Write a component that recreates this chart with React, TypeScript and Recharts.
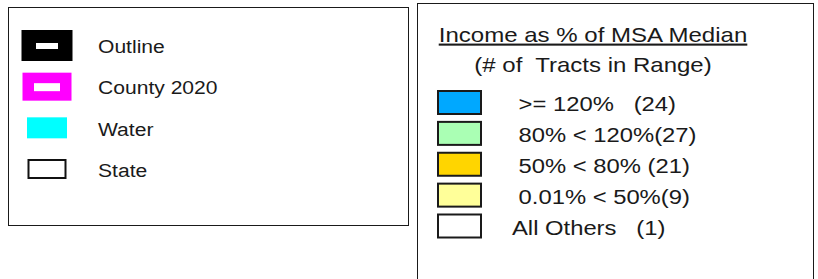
import React from 'react'
import { ScatterChart, Scatter, XAxis, YAxis, Customized } from 'recharts'

// map layers legend
const layerNames = ['Outline', 'County 2020', 'Water', 'State']

// income legend
const incomeTitle = 'Income as % of MSA Median'
const incomeSubtitle = '(# of  Tracts in Range)'
const incomeRanges = [' >= 120%   ', ' 80% < 120%', ' 50% < 80% ', ' 0.01% < 50%', 'All Others   ']
const tractCounts = [24, 27, 21, 9, 1]

const LAYER_STYLES = [
  { fill: '#000000', w: 51, h: 31, inner: { w: 22, h: 6 } },
  { fill: '#FF00FF', w: 49, h: 28, inner: { w: 26, h: 8 } },
  { fill: '#00FFFF', w: 40, h: 21 },
  { fill: '#FFFFFF', w: 37, h: 18, stroke: '#111111' },
]

const INCOME_COLORS = [
  '#00A8FF', // >= 120
  '#AAFFB4', // 80-120
  '#FFD500', // 50-80
  '#FFFF99', // 0-50
  '#FFFFFF', // others
]

const FONT = "'Liberation Sans', Arial, sans-serif"
const INK = '#1a1a1a'

const layerData = layerNames.map((name, i) => ({ x: 0, row: i, name }))
const incomeData = incomeRanges.map((range, i) => ({ x: 0, row: i, label: `${range}(${tractCounts[i]})` }))

const LayerSwatch = (props: any) => {
  const { cx, cy, payload } = props
  const s = LAYER_STYLES[payload.row]
  return (
    <g>
      <rect
        x={cx - s.w / 2}
        y={cy - s.h / 2}
        width={s.w}
        height={s.h}
        fill={s.fill}
        stroke={s.stroke ?? 'none'}
        strokeWidth={s.stroke ? 2 : 0}
      />
      {s.inner && (
        <rect x={cx - s.inner.w / 2} y={cy - s.inner.h / 2 + 0.5} width={s.inner.w} height={s.inner.h} fill="#fff" />
      )}
      <text
        transform={`translate(${cx + 51} ${cy + 7.8}) scale(1.11 1)`}
        fontSize={19}
        fontFamily={FONT}
        fill={INK}
      >
        {payload.name}
      </text>
    </g>
  )
}

const IncomeSwatch = (props: any) => {
  const { cx, cy, payload } = props
  return (
    <g>
      <rect x={cx - 21.5} y={cy - 11.5} width={43} height={23} fill={INCOME_COLORS[payload.row]} stroke={INK} strokeWidth={2} />
      <text
        transform={`translate(${cx + 52.5} ${cy + 8.7}) scale(1.19 1)`}
        fontSize={20}
        fontFamily={FONT}
        fill={INK}
        xmlSpace="preserve"
        style={{ whiteSpace: 'pre' }}
      >
        {payload.label}
      </text>
    </g>
  )
}

const IncomeTitle = () => (
  <g>
    <text
      transform="translate(176 38.7) scale(1.145 1)"
      textAnchor="middle"
      fontSize={21}
      fontFamily={FONT}
      fill={INK}
      textDecoration="underline"
    >
      {incomeTitle}
    </text>
    <text
      transform="translate(176 68.5) scale(1.2 1)"
      textAnchor="middle"
      fontSize={20}
      fontFamily={FONT}
      fill={INK}
      xmlSpace="preserve"
      style={{ whiteSpace: 'pre' }}
    >
      {incomeSubtitle}
    </text>
  </g>
)

export default function App() {
  return (
    <div style={{ position: 'absolute', left: 0, top: 0, width: 818, height: 279, overflow: 'hidden', background: '#fff' }}>
      <div
        style={{
          position: 'absolute', left: 8, top: 7, width: 401, height: 219,
          border: `1.5px solid ${INK}`, boxSizing: 'border-box',
        }}
      />
      <div
        style={{
          position: 'absolute', left: 416.5, top: 3, width: 397.5, height: 300,
          border: `1.5px solid ${INK}`, boxSizing: 'border-box',
        }}
      />

      <div style={{ position: 'absolute', left: 8, top: 7 }}>
        <ScatterChart width={400} height={218} margin={{ top: 38.5, right: 20, bottom: 56, left: 39 }}>
          <XAxis type="number" dataKey="x" domain={[0, 1]} hide />
          <YAxis type="number" dataKey="row" domain={[0, 3]} reversed hide />
          <Scatter data={layerData} shape={LayerSwatch} isAnimationActive={false} />
        </ScatterChart>
      </div>

      <div style={{ position: 'absolute', left: 417, top: 3 }}>
        <ScatterChart width={396} height={276} margin={{ top: 99.5, right: 20, bottom: 53, left: 42.5 }}>
          <XAxis type="number" dataKey="x" domain={[0, 1]} hide />
          <YAxis type="number" dataKey="row" domain={[0, 4]} reversed hide />
          <Customized component={IncomeTitle} />
          <Scatter data={incomeData} shape={IncomeSwatch} isAnimationActive={false} />
        </ScatterChart>
      </div>
    </div>
  )
}
